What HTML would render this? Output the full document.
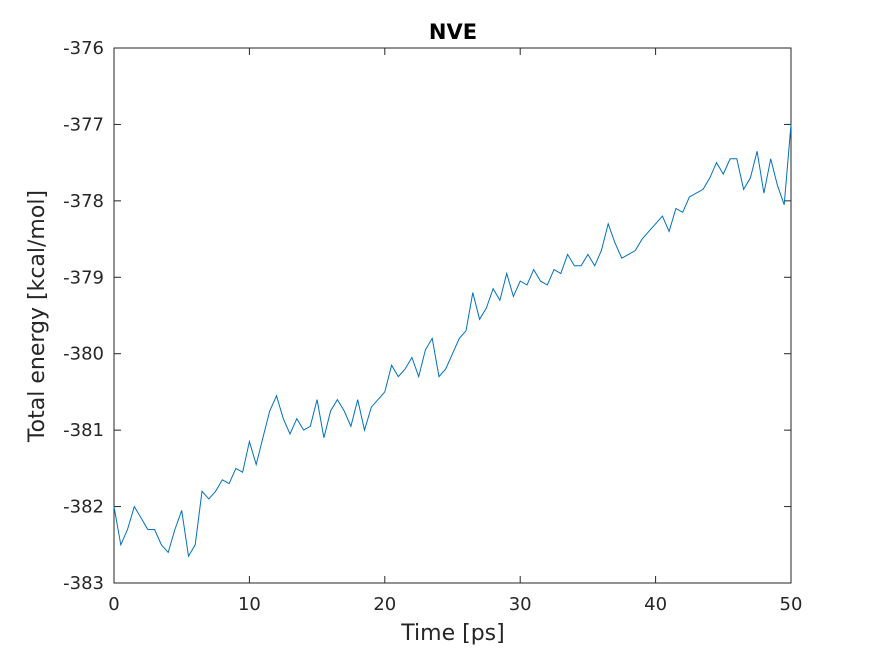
<!DOCTYPE html>
<html><head><meta charset="utf-8"><style>
body{margin:0;background:#fff;}
text{font-family:"DejaVu Sans","Liberation Sans",sans-serif;fill:#262626;}
</style></head><body>
<svg id="chart" width="875" height="656" xmlns="http://www.w3.org/2000/svg">
<rect x="0" y="0" width="875" height="656" fill="#fff"/>
<g id="axes"></g>
<text x="453" y="39" text-anchor="middle" font-size="21" font-weight="bold" style="fill:#000">NVE</text>
<text x="453" y="640" text-anchor="middle" font-size="22">Time [ps]</text>
<text transform="translate(44,316) rotate(-90)" text-anchor="middle" font-size="22">Total energy [kcal/mol]</text>
</svg>
<script>
const xTicks=[0,10,20,30,40,50];
const yTicks=[-383,-382,-381,-380,-379,-378,-377,-376];
const times=[];for(let i=0;i<=100;i++)times.push(i*0.5);
const energy=[-382.0,-382.5,-382.3,-382.0,-382.15,-382.3,-382.3,-382.5,-382.6,-382.3,-382.05,-382.65,-382.5,-381.8,-381.9,-381.8,-381.65,-381.7,-381.5,-381.55,-381.15,-381.45,-381.1,-380.75,-380.55,-380.85,-381.05,-380.85,-381.0,-380.95,-380.6,-381.1,-380.75,-380.6,-380.75,-380.95,-380.6,-381.0,-380.7,-380.6,-380.5,-380.15,-380.3,-380.2,-380.05,-380.3,-379.95,-379.8,-380.3,-380.2,-380.0,-379.8,-379.7,-379.2,-379.55,-379.4,-379.15,-379.3,-378.95,-379.25,-379.05,-379.1,-378.9,-379.05,-379.1,-378.9,-378.95,-378.7,-378.85,-378.85,-378.7,-378.85,-378.65,-378.3,-378.55,-378.75,-378.7,-378.65,-378.5,-378.4,-378.3,-378.2,-378.4,-378.1,-378.15,-377.95,-377.9,-377.85,-377.7,-377.5,-377.65,-377.45,-377.45,-377.85,-377.7,-377.35,-377.9,-377.45,-377.8,-378.05,-377.0];
const L=114,R=791,T=48,B=583;
const xs=v=>L+(v-0)/(50-0)*(R-L);
const ys=v=>B-(v+383)/7*(B-T);
const NS="http://www.w3.org/2000/svg";
const g=document.getElementById('axes');
function mk(tag,attrs){const e=document.createElementNS(NS,tag);for(const k in attrs)e.setAttribute(k,attrs[k]);g.appendChild(e);return e;}
const box=mk('rect',{x:L,y:T,width:R-L,height:B-T,fill:'#fff',stroke:'#262626','stroke-width':1});


xTicks.forEach(v=>{const x=xs(v);
 const t=mk('line',{x1:x,x2:x,y1:B,y2:B-7,stroke:'#262626'});
 
 
 const t2=mk('line',{x1:x,x2:x,y1:T,y2:T+7,stroke:'#262626'});
 
 
 const l=mk('text',{x:x,y:B+27,'text-anchor':'middle','font-size':18});l.textContent=v;
 
 
});
yTicks.forEach(v=>{const y=ys(v);
 const t=mk('line',{x1:L,x2:L+7,y1:y,y2:y,stroke:'#262626'});
 
 
 const t2=mk('line',{x1:R,x2:R-7,y1:y,y2:y,stroke:'#262626'});
 
 
 const l=mk('text',{x:L-10,y:y+6,'text-anchor':'end','font-size':18});l.textContent=v;
 
 
});
const d=energy.map((v,i)=>(i?'L':'M')+xs(times[i]).toFixed(1)+','+ys(v).toFixed(1)).join(' ');
const p=mk('path',{d:d,fill:'none',stroke:'#0072BD','stroke-width':1});


</script>
</body></html>
